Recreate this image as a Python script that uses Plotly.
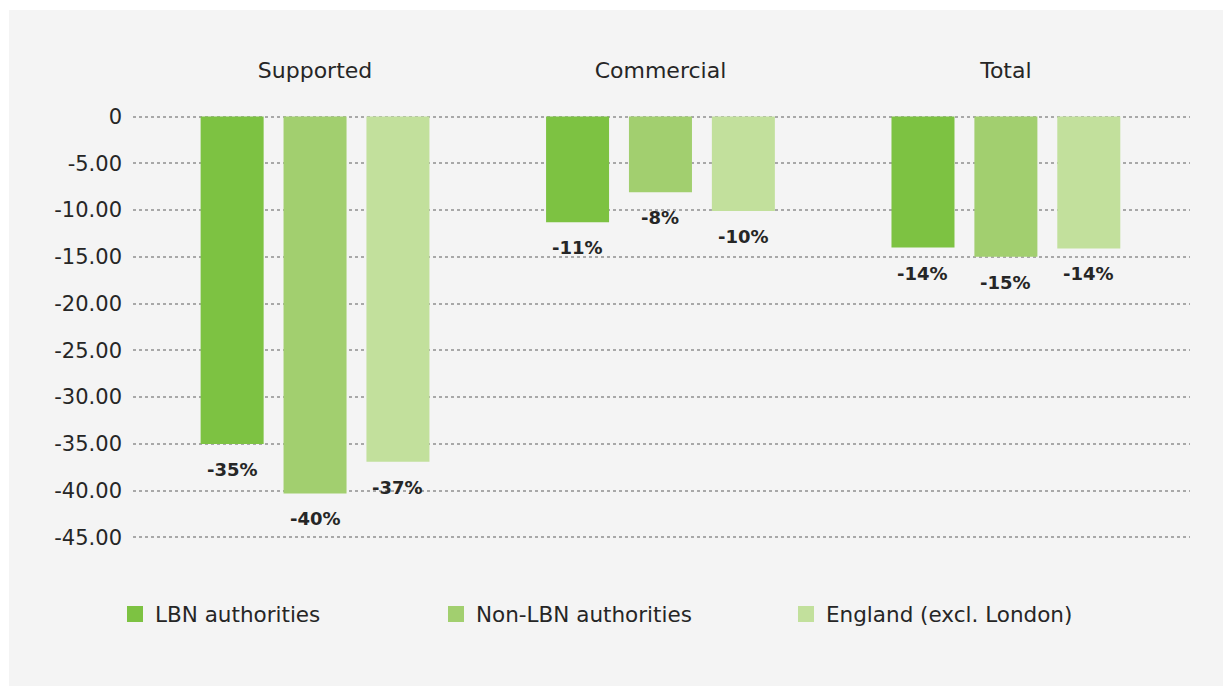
import plotly.graph_objects as go

# ---- data -------------------------------------------------------------
categories = ["Supported", "Commercial", "Total"]
series_names = ["LBN authorities", "Non-LBN authorities", "England (excl. London)"]
lbn_change = [-35.0, -11.3, -14.0]
non_lbn_change = [-40.3, -8.1, -15.0]
england_change = [-36.9, -10.1, -14.1]
y_ticks = [0, -5, -10, -15, -20, -25, -30, -35, -40, -45]
y_tick_text = ["0", "-5.00", "-10.00", "-15.00", "-20.00", "-25.00",
               "-30.00", "-35.00", "-40.00", "-45.00"]

# ---- style ------------------------------------------------------------
W, H = 1223, 686
M_L, M_R, M_T, M_B = 133, 33, 111, 143
FONT = "DejaVu Sans"
TEXT = "#262626"
PANEL = "#f4f4f4"
GRID = "#a8a8a8"
colors = ["#7dc242", "#a2cf6f", "#c2e09c"]
BARGAP, GROUPGAP = 0.28, 0.24

series_values = [lbn_change, non_lbn_change, england_change]
idx = list(range(len(categories)))
plot_w = W - M_L - M_R
plot_h = H - M_T - M_B

fig = go.Figure()
for name, vals, col in zip(series_names, series_values, colors):
    fig.add_trace(go.Bar(x=idx, y=vals, name=name, marker_color=col,
                         marker_line_width=0, showlegend=False))

# legend-only square swatches, one legend per series
legend_ids = ["legend", "legend2", "legend3"]
for name, col, lid in zip(series_names, colors, legend_ids):
    fig.add_trace(go.Scatter(x=[None], y=[None], mode="markers", name=name,
                             marker=dict(symbol="square", size=16, color=col),
                             legend=lid, showlegend=True, hoverinfo="skip"))

# value labels under each bar end
n = len(series_values)
slot = (1 - BARGAP) / n
annotations = []
for k, vals in enumerate(series_values):
    off = (k - (n - 1) / 2) * slot
    for i, v in zip(idx, vals):
        annotations.append(dict(
            x=i + off, y=v, xref="x", yref="y", text=f"<b>{v:.0f}%</b>",
            showarrow=False, yanchor="top", yshift=-13,
            font=dict(family=FONT, size=18, color=TEXT)))

# grey panel behind the whole chart
def px_x(p):
    return (p - M_L) / plot_w

def px_y(p):
    return (H - M_B - p) / plot_h

shapes = [dict(type="rect", xref="paper", yref="paper", layer="below",
               x0=px_x(9), x1=px_x(W + 2), y0=px_y(H + 2), y1=px_y(10),
               fillcolor=PANEL, line_width=0)]

legend_common = dict(orientation="h", xref="container", yref="container",
                     xanchor="left", yanchor="middle", bgcolor="rgba(0,0,0,0)",
                     itemsizing="trace",
                     font=dict(family=FONT, size=21.5, color=TEXT))
legend_left_px = [115, 436, 786]
leg_cfg = {}
for lid, lx in zip(legend_ids, legend_left_px):
    leg_cfg[lid] = dict(legend_common, x=lx / W, y=1 - 614 / H)

fig.update_layout(
    width=W, height=H,
    margin=dict(l=M_L, r=M_R, t=M_T, b=M_B, autoexpand=False),
    paper_bgcolor="white", plot_bgcolor="rgba(0,0,0,0)",
    barmode="group", bargap=BARGAP, bargroupgap=GROUPGAP,
    font=dict(family=FONT, color=TEXT),
    shapes=shapes, annotations=annotations,
    **leg_cfg,
)
fig.update_xaxes(
    tickmode="array", tickvals=idx, ticktext=categories, side="top",
    range=[-0.527, 2.533], showgrid=False, zeroline=False, showline=False,
    ticks="", ticklabelstandoff=28,
    tickfont=dict(family=FONT, size=22, color=TEXT),
)
fig.update_yaxes(
    tickmode="array", tickvals=y_ticks, ticktext=y_tick_text,
    range=[-45.6, 0.6], showgrid=True, gridcolor=GRID, gridwidth=1.5,
    griddash="dot", zeroline=False, showline=False, ticks="",
    ticklabelstandoff=10,
    tickfont=dict(family=FONT, size=21, color=TEXT),
)

fig.write_html("out.html")
